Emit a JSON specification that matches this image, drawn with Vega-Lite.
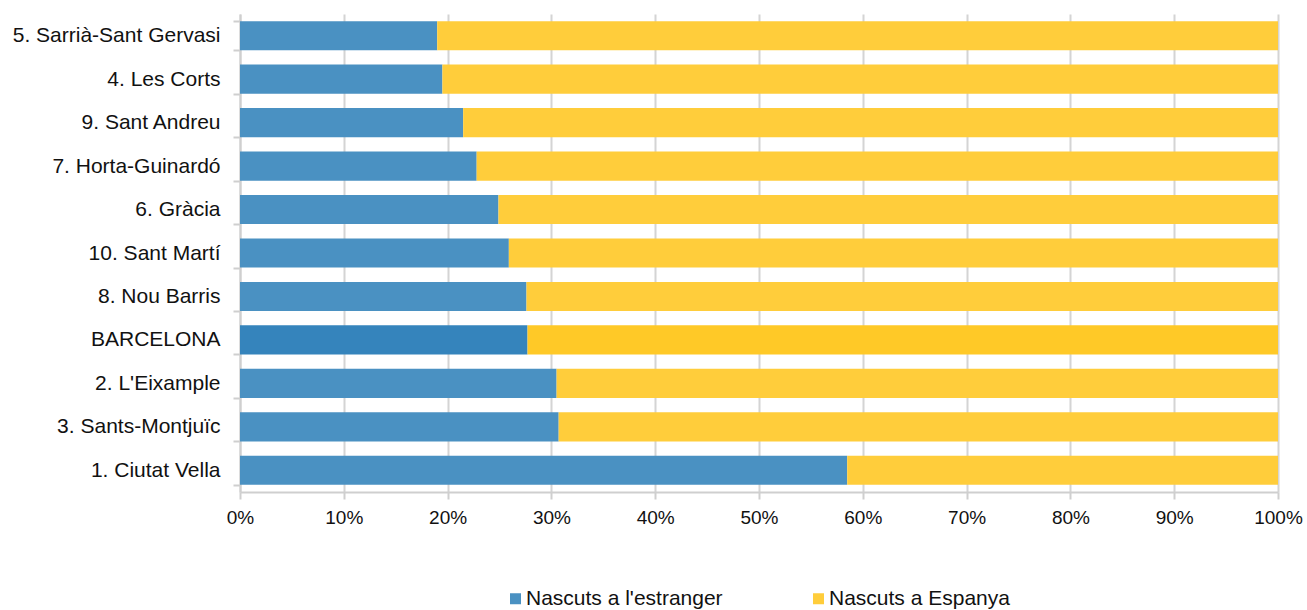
{
  "$schema": "https://vega.github.io/schema/vega-lite/v6.json",
  "autosize": "none",
  "width": 1038,
  "height": 478,
  "padding": {"left": 240, "top": 14, "right": 29, "bottom": 118},
  "background": "white",
  "config": {
    "font": "Liberation Sans",
    "view": {"stroke": null}
  },
  "data": {
    "values": [
      {"district": "5. Sarrià-Sant Gervasi", "serie": "Nascuts a l'estranger", "k": 1, "value": 19.0},
      {"district": "5. Sarrià-Sant Gervasi", "serie": "Nascuts a Espanya", "k": 2, "value": 81.0},
      {"district": "4. Les Corts", "serie": "Nascuts a l'estranger", "k": 1, "value": 19.5},
      {"district": "4. Les Corts", "serie": "Nascuts a Espanya", "k": 2, "value": 80.5},
      {"district": "9. Sant Andreu", "serie": "Nascuts a l'estranger", "k": 1, "value": 21.5},
      {"district": "9. Sant Andreu", "serie": "Nascuts a Espanya", "k": 2, "value": 78.5},
      {"district": "7. Horta-Guinardó", "serie": "Nascuts a l'estranger", "k": 1, "value": 22.8},
      {"district": "7. Horta-Guinardó", "serie": "Nascuts a Espanya", "k": 2, "value": 77.2},
      {"district": "6. Gràcia", "serie": "Nascuts a l'estranger", "k": 1, "value": 24.9},
      {"district": "6. Gràcia", "serie": "Nascuts a Espanya", "k": 2, "value": 75.1},
      {"district": "10. Sant Martí", "serie": "Nascuts a l'estranger", "k": 1, "value": 25.9},
      {"district": "10. Sant Martí", "serie": "Nascuts a Espanya", "k": 2, "value": 74.1},
      {"district": "8. Nou Barris", "serie": "Nascuts a l'estranger", "k": 1, "value": 27.6},
      {"district": "8. Nou Barris", "serie": "Nascuts a Espanya", "k": 2, "value": 72.4},
      {"district": "BARCELONA", "serie": "Nascuts a l'estranger", "k": 1, "value": 27.7},
      {"district": "BARCELONA", "serie": "Nascuts a Espanya", "k": 2, "value": 72.3},
      {"district": "2. L'Eixample", "serie": "Nascuts a l'estranger", "k": 1, "value": 30.5},
      {"district": "2. L'Eixample", "serie": "Nascuts a Espanya", "k": 2, "value": 69.5},
      {"district": "3. Sants-Montjuïc", "serie": "Nascuts a l'estranger", "k": 1, "value": 30.7},
      {"district": "3. Sants-Montjuïc", "serie": "Nascuts a Espanya", "k": 2, "value": 69.3},
      {"district": "1. Ciutat Vella", "serie": "Nascuts a l'estranger", "k": 1, "value": 58.5},
      {"district": "1. Ciutat Vella", "serie": "Nascuts a Espanya", "k": 2, "value": 41.5}
    ]
  },
  "mark": {"type": "bar"},
  "encoding": {
    "y": {
      "field": "district",
      "type": "nominal",
      "sort": ["5. Sarrià-Sant Gervasi", "4. Les Corts", "9. Sant Andreu", "7. Horta-Guinardó", "6. Gràcia", "10. Sant Martí", "8. Nou Barris", "BARCELONA", "2. L'Eixample", "3. Sants-Montjuïc", "1. Ciutat Vella"],
      "scale": {"paddingInner": 0.33, "paddingOuter": 0.165},
      "axis": {
        "title": null,
        "tickBand": "extent",
        "domainColor": "#CFCFCF",
        "domainWidth": 2,
        "tickColor": "#CFCFCF",
        "tickWidth": 2,
        "tickSize": 7,
        "labelFontSize": 21,
        "labelColor": "#111111",
        "labelPadding": 13,
        "labelLimit": 400,
        "grid": false
      }
    },
    "x": {
      "field": "value",
      "type": "quantitative",
      "stack": "normalize",
      "scale": {"domain": [0, 1], "nice": false},
      "axis": {
        "title": null,
        "format": ".0%",
        "values": [0, 0.1, 0.2, 0.3, 0.4, 0.5, 0.6, 0.7, 0.8, 0.9, 1],
        "grid": true,
        "gridColor": "#D4D4D4",
        "gridWidth": 2,
        "domainColor": "#CFCFCF",
        "domainWidth": 2,
        "tickColor": "#CFCFCF",
        "tickWidth": 2,
        "tickSize": 7,
        "labelFontSize": 19,
        "labelColor": "#111111",
        "labelPadding": 9,
        "labelFlush": false
      }
    },
    "order": {"field": "k", "type": "quantitative"},
    "color": {
      "field": "serie",
      "type": "nominal",
      "sort": ["Nascuts a l'estranger", "Nascuts a Espanya"],
      "scale": {"domain": ["Nascuts a l'estranger", "Nascuts a Espanya"], "range": ["#4A91C2", "#FFCD3B"]},
      "condition": [
        {"test": "datum.district === 'BARCELONA' && datum.k === 1", "value": "#3584BC"},
        {"test": "datum.district === 'BARCELONA' && datum.k === 2", "value": "#FFC927"}
      ],
      "legend": {
        "title": null,
        "orient": "none",
        "direction": "horizontal",
        "legendX": 265,
        "legendY": 574,
        "symbolType": "square",
        "symbolSize": 121,
        "symbolStrokeWidth": 0,
        "labelFontSize": 21,
        "labelColor": "#111111",
        "labelOffset": 0,
        "columnPadding": 85,
        "labelLimit": 400
      }
    }
  }
}
